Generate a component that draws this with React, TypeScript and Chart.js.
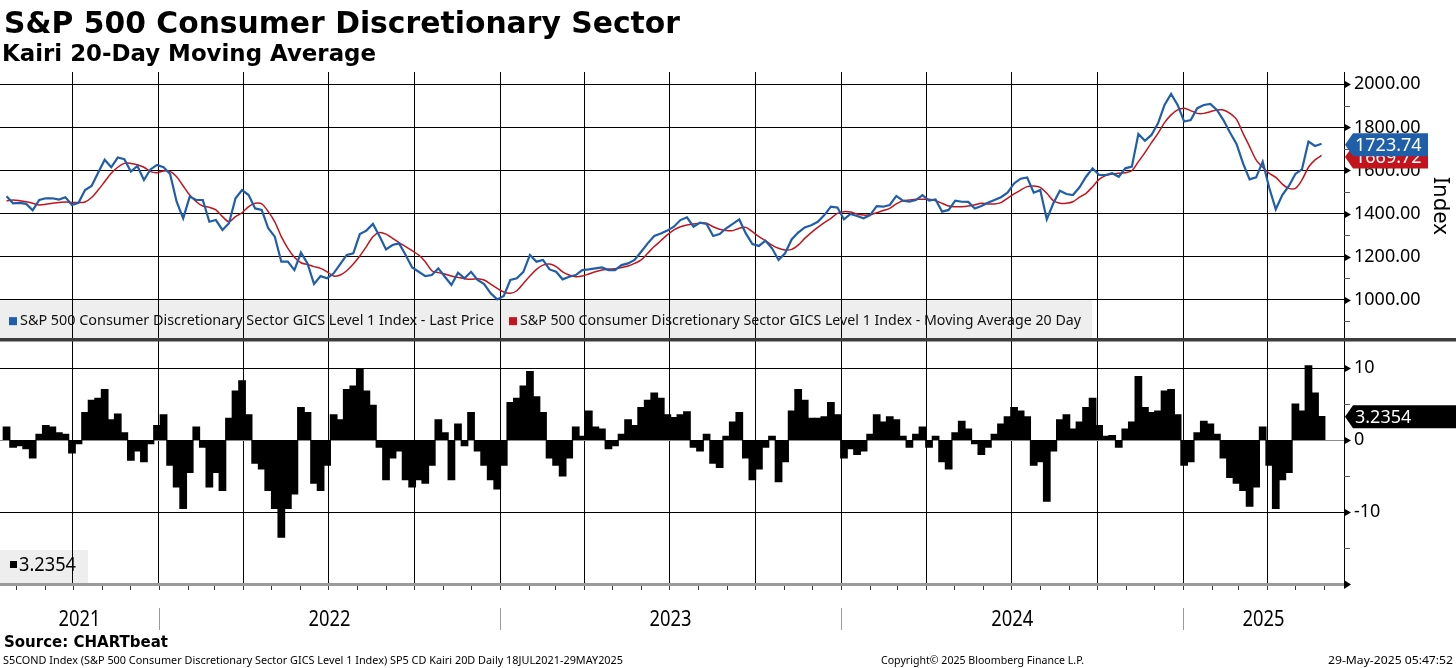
import { useEffect, useLayoutEffect, useRef } from "react"
import { Chart, registerables } from "chart.js"

Chart.register(...registerables)

const W = 1456
const H = 668
const DAY = 86400000

// weekly readings (Thursdays), 22 Jul 2021 .. 29 May 2025
const FIRST_WEEK = Date.UTC(2021, 6, 22)
const RANGE_START = Date.UTC(2021, 6, 15)
const RANGE_END = Date.UTC(2025, 5, 22)

const PRICE = [
  1480, 1448, 1450, 1445, 1415, 1463, 1471, 1471, 1465, 1476,
  1440, 1450, 1509, 1528, 1590, 1650, 1615, 1660, 1652, 1595,
  1621, 1556, 1605, 1626, 1615, 1584, 1455, 1378, 1479, 1463,
  1463, 1362, 1370, 1324, 1355, 1471, 1509, 1486, 1424, 1417,
  1332, 1293, 1177, 1177, 1138, 1219, 1169, 1073, 1110, 1100,
  1123, 1166, 1208, 1216, 1305, 1321, 1352, 1296, 1234, 1254,
  1262, 1208, 1150, 1130, 1110, 1115, 1146, 1107, 1069, 1126,
  1100, 1130, 1092, 1073, 1030, 1002, 1018, 1092, 1100, 1130,
  1208, 1177, 1185, 1141, 1130, 1095, 1107, 1115, 1138, 1141,
  1146, 1150, 1138, 1138, 1161, 1169, 1185, 1223, 1262, 1296,
  1308, 1321, 1339, 1370, 1383, 1339, 1358, 1352, 1296, 1305,
  1332, 1352, 1373, 1308, 1259, 1250, 1274, 1239, 1185, 1216,
  1280, 1312, 1336, 1346, 1362, 1393, 1432, 1428, 1373, 1398,
  1389, 1378, 1393, 1435, 1432, 1440, 1482, 1460, 1455, 1463,
  1486, 1460, 1466, 1409, 1417, 1460, 1455, 1454, 1424, 1435,
  1450, 1463, 1476, 1497, 1540, 1562, 1568, 1497, 1509, 1373,
  1448, 1506, 1491, 1486, 1522, 1571, 1610, 1579, 1579, 1587,
  1571, 1610, 1618, 1769, 1738, 1765, 1819, 1904, 1955, 1904,
  1827, 1834, 1889, 1904, 1909, 1881, 1834, 1776, 1723, 1633,
  1559, 1568, 1641, 1520, 1420, 1486, 1528, 1584, 1605, 1734,
  1714, 1723.74,
]

const MA20 = [
  1460, 1463, 1460, 1455, 1448, 1440, 1443, 1448, 1451, 1454,
  1452, 1451, 1454, 1475, 1509, 1548, 1587, 1615, 1633, 1633,
  1627, 1615, 1595, 1590, 1598, 1596, 1571, 1528, 1486, 1455,
  1435, 1429, 1417, 1386, 1362, 1386, 1404, 1432, 1448, 1445,
  1409, 1362, 1293, 1239, 1197, 1172, 1164, 1154, 1146, 1130,
  1110, 1115, 1135, 1166, 1203, 1247, 1293, 1312, 1305, 1285,
  1265, 1247, 1228, 1208, 1177, 1135, 1126, 1120, 1110, 1104,
  1098, 1095, 1098, 1092, 1073, 1053, 1036, 1030, 1042, 1076,
  1110, 1141, 1161, 1166, 1154, 1130, 1115, 1107, 1110, 1120,
  1130, 1138, 1143, 1144, 1150, 1157, 1169, 1185, 1216, 1247,
  1274, 1301, 1324, 1339, 1347, 1352, 1355, 1355, 1339, 1327,
  1321, 1321, 1332, 1336, 1316, 1293, 1274, 1254, 1239, 1231,
  1234, 1254, 1285, 1312, 1336, 1358, 1378, 1401, 1409, 1407,
  1398, 1393, 1395, 1404, 1414, 1424, 1445, 1460, 1463, 1466,
  1466, 1466, 1460, 1448, 1435, 1432, 1432, 1435, 1441, 1448,
  1445, 1445, 1451, 1471, 1491, 1509, 1525, 1528, 1522, 1494,
  1460, 1448, 1448, 1455, 1476, 1494, 1525, 1559, 1576, 1584,
  1587, 1590, 1599, 1641, 1683, 1729, 1772, 1822, 1858, 1881,
  1889, 1878, 1865, 1865, 1873, 1881, 1881, 1865, 1837, 1772,
  1711, 1649, 1615, 1587, 1568, 1537, 1517, 1517, 1556, 1615,
  1649, 1669.72,
]

const KAIRI = [
  1.8, -1.0, -0.8, -1.2, -2.5, 0.8, 2.0, 1.8, 1.0, 0.8,
  -1.8, -0.5, 3.8, 5.5, 5.8, 7.0, 2.8, 3.6, 1.0, -2.8,
  -1.5, -3.0, -0.5, 2.0, 3.5, -3.5, -6.5, -9.5, -4.5, 1.8,
  -1.0, -6.5, -4.5, -7.0, 3.0, 6.8, 8.2, 3.5, -3.2, -4.0,
  -7.0, -9.5, -13.5, -9.5, -7.5, 4.5, 3.8, -6.0, -7.0, -3.5,
  3.5, 2.8, 7.0, 7.5, 9.8, 6.8, 4.8, -1.0, -5.5, -2.5,
  -1.5, -5.5, -6.5, -5.5, -6.0, -3.5, 2.8, 1.0, -5.5, 2.2,
  -0.8, 3.8, -1.5, -3.5, -5.5, -6.8, -3.5, 5.2, 5.8, 7.5,
  9.5, 6.0, 3.8, -2.5, -3.5, -5.0, -2.5, 1.8, 0.5, 4.0,
  1.8, 1.5, -1.2, -0.8, 0.8, 2.8, 2.0, 4.5, 5.5, 6.5,
  5.8, 3.5, 3.1, 3.5, 3.9, -1.0, -1.5, 0.8, -3.2, -3.8,
  0.5, 2.5, 3.8, -2.5, -5.5, -4.0, -1.0, 0.5, -5.8, -3.0,
  4.0, 7.0, 5.5, 3.0, 3.0, 3.2, 5.2, 3.5, -2.5, -1.2,
  -2.0, -1.5, 0.8, 3.5, 2.5, 3.2, 2.8, 0.5, -1.0, 0.8,
  1.8, -1.0, 0.5, -3.0, -4.0, 1.0, 2.6, 1.5, -0.5, -2.0,
  -1.0, 0.8, 2.2, 3.2, 4.5, 4.0, 3.2, -3.5, -3.0, -8.5,
  -1.5, 2.8, 3.5, 1.5, 2.5, 4.5, 5.8, 2.0, 0.5, 0.6,
  -1.0, 1.5, 2.5, 8.8, 4.5, 3.8, 4.0, 6.8, 7.0, 3.5,
  -3.5, -3.0, 1.0, 2.6, 2.2, 0.8, -2.5, -5.2, -6.0, -7.0,
  -9.2, -6.5, 1.8, -3.5, -9.5, -5.5, -4.5, 5.0, 4.0, 10.3,
  6.5, 3.2354,
]

const YEARS = ["2021", "2022", "2023", "2024", "2025"]
const PRICE_TICKS = [900, 1000, 1100, 1200, 1300, 1400, 1500, 1600, 1700, 1800, 1900, 2000]
const KAIRI_TICKS = [-15, -10, -5, 0, 5, 10]

const LAST_PRICE = 1723.74
const LAST_MA = 1669.72
const LAST_KAIRI = 3.2354

const LEGEND_PRICE = "S&P 500 Consumer Discretionary Sector GICS Level 1 Index - Last Price"
const LEGEND_MA = "S&P 500 Consumer Discretionary Sector GICS Level 1 Index - Moving Average 20 Day"

const BLUE = "#1f5ea8"
const RED = "#c3141d"
const FONT = "'Noto Sans', 'Open Sans', sans-serif"

const weekX = (i: number) => FIRST_WEEK + i * 7 * DAY
const isMajorPrice = (v: number) => v >= 1000 && v % 200 === 0
const isMajorKairi = (v: number) => v % 10 === 0

function quarterStarts() {
  const out: { value: number }[] = []
  for (let y = 2021; y <= 2025; y++) {
    for (const m of [0, 3, 6, 9]) {
      const t = Date.UTC(y, m, 1)
      if (t > RANGE_START && t < RANGE_END) out.push({ value: t })
    }
  }
  return out
}

function drawTag(ctx: CanvasRenderingContext2D, yc: number, text: string, color: string, right: number) {
  const tip = 1345
  const body = 1353
  const h = 23
  ctx.fillStyle = color
  ctx.beginPath()
  ctx.moveTo(tip, yc)
  ctx.lineTo(body, yc - h / 2)
  ctx.lineTo(right, yc - h / 2)
  ctx.lineTo(right, yc + h / 2)
  ctx.lineTo(body, yc + h / 2)
  ctx.closePath()
  ctx.fill()
  ctx.fillStyle = "#fff"
  ctx.textAlign = "left"
  ctx.textBaseline = "middle"
  ctx.font = `18px ${FONT}`
  ctx.fillText(text, body + 2, yc + 1)
}

const bloombergDecor = {
  id: "bloombergDecor",
  beforeDraw(chart: any) {
    const { ctx } = chart
    const yP = chart.scales.yP
    const yK = chart.scales.yK
    const legendTop = yP.getPixelForValue(1000)
    ctx.save()
    ctx.fillStyle = "#eeeeee"
    ctx.fillRect(0, legendTop, 1092, yP.bottom - legendTop)
    ctx.fillRect(0, 550, 88, yK.bottom - 550)
    ctx.restore()
  },
  afterDraw(chart: any) {
    const { ctx, chartArea } = chart
    const x = chart.scales.x
    const yP = chart.scales.yP
    const yK = chart.scales.yK
    const axisX = chartArea.right
    const bottom = chartArea.bottom
    ctx.save()

    // panel separator
    ctx.fillStyle = "#3d3d3d"
    ctx.fillRect(0, yP.bottom - 1.5, W, 3.5)

    // right axis tick marks
    const marks = (scale: any, values: number[], major: (v: number) => boolean) => {
      for (const v of values) {
        const py = Math.round(scale.getPixelForValue(v)) + 0.5
        if (major(v)) {
          ctx.fillStyle = "#000"
          ctx.beginPath()
          ctx.moveTo(axisX, py - 4)
          ctx.lineTo(axisX + 7, py)
          ctx.lineTo(axisX, py + 4)
          ctx.closePath()
          ctx.fill()
        } else {
          ctx.strokeStyle = "#555"
          ctx.lineWidth = 1
          ctx.beginPath()
          ctx.moveTo(axisX, py)
          ctx.lineTo(axisX + 6, py)
          ctx.stroke()
        }
      }
    }
    marks(yP, PRICE_TICKS, isMajorPrice)
    marks(yK, KAIRI_TICKS, isMajorKairi)

    // axis title
    ctx.save()
    ctx.translate(1440, (yP.top + yP.bottom) / 2)
    ctx.rotate(Math.PI / 2)
    ctx.font = `22px ${FONT}`
    ctx.fillStyle = "#000"
    ctx.textAlign = "center"
    ctx.textBaseline = "middle"
    ctx.fillText("Index", 0, 0)
    ctx.restore()

    // legends
    const ly = (yP.getPixelForValue(1000) + yP.bottom) / 2 + 1.5
    ctx.font = `15px ${FONT}`
    ctx.textAlign = "left"
    ctx.textBaseline = "middle"
    ctx.fillStyle = BLUE
    ctx.fillRect(9, ly - 4, 8, 8)
    ctx.fillStyle = "#111"
    ctx.fillText(LEGEND_PRICE, 20, ly, 474)
    ctx.fillStyle = RED
    ctx.fillRect(509, ly - 4, 8, 8)
    ctx.fillStyle = "#111"
    ctx.fillText(LEGEND_MA, 520, ly, 561)

    ctx.fillStyle = "#000"
    ctx.fillRect(10, 561, 7, 7)
    ctx.font = `19px ${FONT}`
    ctx.fillText(LAST_KAIRI.toFixed(4), 19, 566, 57)

    // time axis
    ctx.fillStyle = "#9b9b9b"
    ctx.fillRect(0, bottom - 1, axisX, 3)
    ctx.fillStyle = "#000"
    ctx.beginPath()
    ctx.moveTo(axisX, bottom - 4)
    ctx.lineTo(axisX + 7, bottom + 0.5)
    ctx.lineTo(axisX, bottom + 5)
    ctx.closePath()
    ctx.fill()

    ctx.strokeStyle = "#333"
    ctx.lineWidth = 1
    for (let y = 2021; y <= 2025; y++) {
      for (let m = 0; m < 12; m++) {
        const t = Date.UTC(y, m, 1)
        if (t <= RANGE_START || t >= RANGE_END) continue
        const px = Math.round(x.getPixelForValue(t)) + 0.5
        ctx.beginPath()
        ctx.moveTo(px, bottom + 2)
        ctx.lineTo(px, bottom + 6)
        ctx.stroke()
      }
    }

    const bounds = [chartArea.left]
    for (let y = 2022; y <= 2025; y++) bounds.push(x.getPixelForValue(Date.UTC(y, 0, 1)))
    bounds.push(axisX)
    ctx.strokeStyle = "#9a9a9a"
    for (let i = 1; i < bounds.length - 1; i++) {
      const px = Math.round(bounds[i]) + 0.5
      ctx.beginPath()
      ctx.moveTo(px, 608)
      ctx.lineTo(px, 630)
      ctx.stroke()
    }
    ctx.fillStyle = "#000"
    ctx.font = `21px ${FONT}`
    ctx.textAlign = "center"
    ctx.textBaseline = "middle"
    YEARS.forEach((label, i) => {
      ctx.fillText(label, (bounds[i] + bounds[i + 1]) / 2, 620, 42)
    })

    // last value tags
    drawTag(ctx, yP.getPixelForValue(LAST_MA) + 1.5, LAST_MA.toFixed(2), RED, 1428)
    drawTag(ctx, yP.getPixelForValue(LAST_PRICE) + 1, LAST_PRICE.toFixed(2), BLUE, 1428)
    drawTag(ctx, yK.getPixelForValue(LAST_KAIRI), LAST_KAIRI.toFixed(4), "#000", W)

    ctx.restore()
  },
}

function FitText(props: {
  text: string
  left: number
  top: number
  width: number
  size: number
  family: string
  bold?: boolean
}) {
  const ref = useRef<HTMLDivElement>(null)
  useLayoutEffect(() => {
    const el = ref.current
    if (!el) return
    const fit = () => {
      el.style.transform = "none"
      const w = el.getBoundingClientRect().width
      if (w > 0) el.style.transform = `scaleX(${props.width / w})`
    }
    fit()
    if (document.fonts) document.fonts.ready.then(fit)
  }, [props.text, props.width])
  return (
    <div
      ref={ref}
      style={{
        position: "absolute",
        left: props.left,
        top: props.top,
        fontFamily: props.family,
        fontSize: props.size,
        fontWeight: props.bold ? 700 : 400,
        lineHeight: 1,
        whiteSpace: "nowrap",
        transformOrigin: "0 0",
        color: "#000",
      }}
    >
      {props.text}
    </div>
  )
}

function KairiChart() {
  const chartRef = useRef<HTMLCanvasElement>(null)
  const chartInstance = useRef<Chart | null>(null)

  useEffect(() => {
    if (!chartRef.current) return
    if (chartInstance.current) chartInstance.current.destroy()

    chartInstance.current = new Chart(chartRef.current, {
      type: "line",
      data: {
        datasets: [
          {
            type: "line",
            label: "Last Price",
            data: PRICE.map((v, i) => ({ x: weekX(i), y: v })),
            xAxisID: "x",
            yAxisID: "yP",
            borderColor: BLUE,
            borderWidth: 2.2,
            pointRadius: 0,
            tension: 0,
          },
          {
            type: "line",
            label: "Moving Average 20 Day",
            data: MA20.map((v, i) => ({ x: weekX(i), y: v })),
            xAxisID: "x",
            yAxisID: "yP",
            borderColor: RED,
            borderWidth: 1.5,
            pointRadius: 0,
            tension: 0.3,
          },
          {
            type: "bar",
            label: "Kairi 20D",
            data: KAIRI.map((v, i) => ({ x: weekX(i), y: v })),
            xAxisID: "x",
            yAxisID: "yK",
            backgroundColor: "#000",
            borderWidth: 0,
            barPercentage: 1,
            categoryPercentage: 1,
            inflateAmount: 0.6,
            grouped: false,
          } as any,
        ],
      },
      options: {
        animation: false,
        responsive: false,
        maintainAspectRatio: false,
        layout: { padding: { top: 72, left: 0, right: 0, bottom: 84 } },
        plugins: {
          legend: { display: false },
          tooltip: { enabled: false },
        },
        scales: {
          x: {
            type: "linear",
            min: RANGE_START,
            max: RANGE_END,
            offset: false,
            afterBuildTicks: (scale: any) => {
              scale.ticks = quarterStarts()
            },
            afterFit: (scale: any) => {
              scale.height = 0
            },
            ticks: { display: false },
            grid: { color: "#000", lineWidth: 1, drawTicks: false, offset: false },
            border: { display: false },
          },
          yP: {
            type: "linear",
            position: "right",
            stack: "panels",
            stackWeight: 267.5,
            min: 815.8,
            max: 2057,
            afterBuildTicks: (scale: any) => {
              scale.ticks = PRICE_TICKS.map((v) => ({ value: v }))
            },
            afterFit: (scale: any) => {
              scale.width = 112
            },
            ticks: {
              autoSkip: false,
              padding: 10,
              color: "#000",
              font: { family: "Noto Sans", size: 18 },
              callback: (v: any) => (isMajorPrice(Number(v)) ? Number(v).toFixed(2) : ""),
            },
            grid: {
              drawTicks: false,
              lineWidth: 1,
              color: (c: any) => (c.tick && isMajorPrice(c.tick.value) ? "#000" : "rgba(0,0,0,0)"),
            },
            border: { display: true, color: "#000", width: 1 },
          },
          yK: {
            type: "linear",
            position: "right",
            stack: "panels",
            stackWeight: 244.5,
            min: -20,
            max: 13.96,
            afterBuildTicks: (scale: any) => {
              scale.ticks = KAIRI_TICKS.map((v) => ({ value: v }))
            },
            afterFit: (scale: any) => {
              scale.width = 112
            },
            ticks: {
              autoSkip: false,
              padding: 10,
              color: "#000",
              font: { family: "Noto Sans", size: 18 },
              callback: (v: any) => (isMajorKairi(Number(v)) ? String(v) : ""),
            },
            grid: {
              drawTicks: false,
              lineWidth: 1,
              color: (c: any) => {
                if (!c.tick) return "rgba(0,0,0,0)"
                if (c.tick.value === 0) return "#8c8c8c"
                return isMajorKairi(c.tick.value) ? "#000" : "rgba(0,0,0,0)"
              },
            },
            border: { display: true, color: "#000", width: 1 },
          },
        },
      } as any,
      plugins: [bloombergDecor],
    })

    return () => {
      if (chartInstance.current) {
        chartInstance.current.destroy()
        chartInstance.current = null
      }
    }
  }, [])

  return (
    <canvas
      ref={chartRef}
      width={W}
      height={H}
      style={{ position: "absolute", left: 0, top: 0, width: W, height: H }}
    />
  )
}

export default function App() {
  return (
    <div
      style={{
        position: "absolute",
        left: 0,
        top: 0,
        width: W,
        height: H,
        background: "#fff",
        overflow: "hidden",
      }}
    >
      <KairiChart />
      <FitText text="S&P 500 Consumer Discretionary Sector" left={4} top={7.6} width={676} size={30} family="'DejaVu Sans', sans-serif" bold />
      <FitText text="Kairi 20-Day Moving Average" left={2} top={42} width={374} size={23} family="'DejaVu Sans', sans-serif" bold />
      <FitText text="Source: CHARTbeat" left={4} top={635} width={164} size={15.5} family="'DejaVu Sans', sans-serif" bold />
      <FitText
        text="S5COND Index (S&P 500 Consumer Discretionary Sector GICS Level 1 Index) SP5 CD Kairi 20D  Daily 18JUL2021-29MAY2025"
        left={3}
        top={654}
        width={620}
        size={11}
        family={FONT}
      />
      <FitText text="Copyright© 2025 Bloomberg Finance L.P." left={881} top={654} width={203} size={11} family={FONT} />
      <FitText text="29-May-2025 05:47:52" left={1328} top={654} width={125} size={11} family={FONT} />
    </div>
  )
}
